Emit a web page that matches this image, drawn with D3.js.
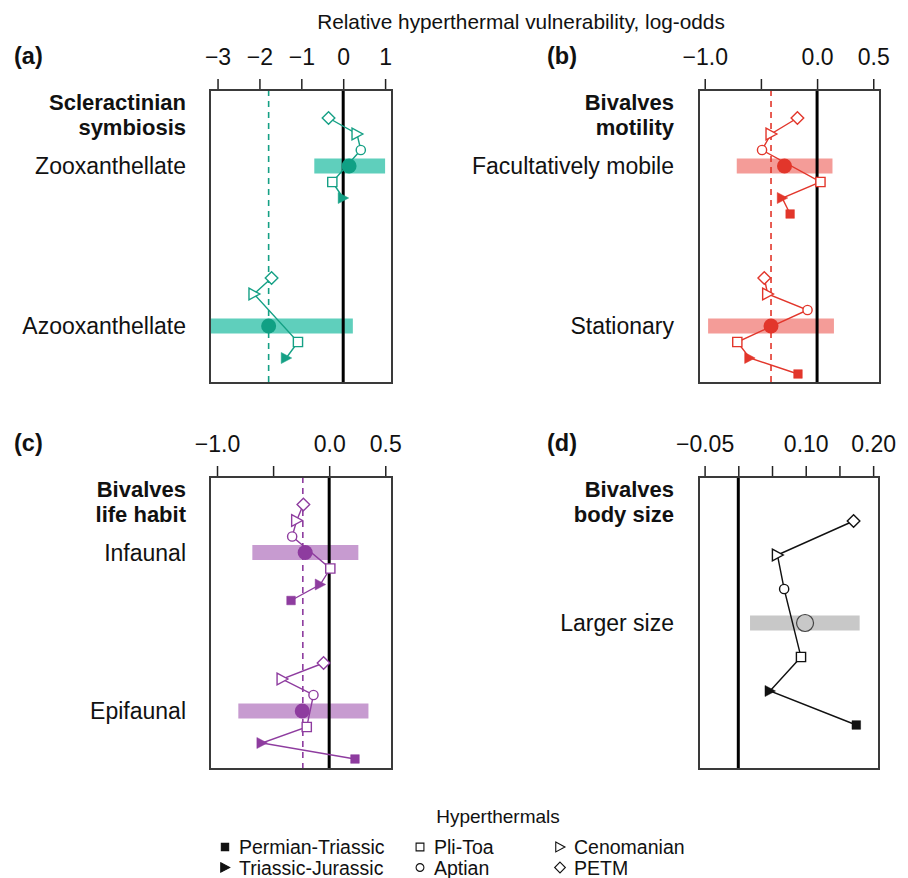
<!DOCTYPE html>
<html>
<head>
<meta charset="utf-8">
<script src="https://cdn.jsdelivr.net/npm/d3@7"></script>
<style>
  body { margin: 0; background: #fff; }
  svg { display: block; font-family: "Liberation Sans", Arial, sans-serif; }
</style>
</head>
<body>
<svg id="chart" width="908" height="878"></svg>
<script>
// hyperthermal events, top to bottom inside each row
var events = ["PETM", "Cenomanian", "Aptian", "Pli-Toa", "Triassic-Jurassic", "Permian-Triassic"];
var eventSlot = [-3, -2, -1, 1, 2, 3];

// (a) scleractinian symbiosis
var aCategories = ["Zooxanthellate", "Azooxanthellate"];
var aMeans = [0.14, -1.78];
var aLower = [-0.69, -3.4];
var aUpper = [1.0, 0.23];
var aEvents = [[-0.35, 0.33, 0.42, -0.26, 0.0, null],
               [-1.71, -2.13, null, -1.08, -1.36, null]];
var aDashed = -1.78;
var aTicks = [-3, -2, -1, 0, 1];
var aTickLabels = ["\u22123", "\u22122", "\u22121", "0", "1"];

// (b) bivalves motility
var bCategories = ["Facultatively mobile", "Stationary"];
var bMeans = [-0.29, -0.41];
var bLower = [-0.715, -0.97];
var bUpper = [0.137, 0.15];
var bEvents = [[-0.175, -0.41, -0.49, 0.03, -0.31, -0.24],
               [-0.47, -0.44, -0.085, -0.71, -0.6, -0.17]];
var bDashed = -0.41;
var bTicks = [-1, -0.5, 0, 0.5];
var bTickLabels = ["\u22121.0", "", "0.0", "0.5"];

// (c) bivalves life habit
var cCategories = ["Infaunal", "Epifaunal"];
var cMeans = [-0.214, -0.24];
var cLower = [-0.685, -0.81];
var cUpper = [0.26, 0.35];
var cEvents = [[-0.23, -0.29, -0.33, 0.01, -0.08, -0.34],
               [-0.05, -0.42, -0.14, -0.2, -0.6, 0.23]];
var cDashed = -0.235;
var cTicks = [-1, -0.5, 0, 0.5];
var cTickLabels = ["\u22121.0", "", "0.0", "0.5"];

// (d) bivalves body size
var dCategories = ["Larger size"];
var dMeans = [0.099];
var dLower = [0.0174];
var dUpper = [0.18];
var dEvents = [[0.171, 0.058, 0.068, 0.093, 0.047, 0.175]];
var dTicks = [-0.05, 0, 0.05, 0.1, 0.15, 0.2];
var dTickLabels = ["\u22120.05", "", "", "0.10", "", "0.20"];

var panels = [
  {tag: "(a)", title: ["Scleractinian", "symbiosis"], cats: aCategories, mean: aMeans, lo: aLower, hi: aUpper,
   ev: aEvents, dashed: aDashed, ticks: aTicks, tickLabels: aTickLabels, domain: [-3.18, 1.165],
   col: "#15a085", bar: "#5fcfbc", dot: "#10a084", dotStroke: null,
   box: {x: 210, y: 90, w: 182, h: 293}, rows: [76, 236], step: 16, textX: 186, tagX: 14},
  {tag: "(b)", title: ["Bivalves", "motility"], cats: bCategories, mean: bMeans, lo: bLower, hi: bUpper,
   ev: bEvents, dashed: bDashed, ticks: bTicks, tickLabels: bTickLabels, domain: [-1.051, 0.56],
   col: "#e2362b", bar: "#f49c98", dot: "#e2362b", dotStroke: null,
   box: {x: 699, y: 90, w: 181, h: 293}, rows: [76, 236], step: 16, textX: 674, tagX: 547},
  {tag: "(c)", title: ["Bivalves", "life habit"], cats: cCategories, mean: cMeans, lo: cLower, hi: cUpper,
   ev: cEvents, dashed: cDashed, ticks: cTicks, tickLabels: cTickLabels, domain: [-1.0625, 0.56],
   col: "#8e3c9f", bar: "#c79bd0", dot: "#8e3c9f", dotStroke: null,
   box: {x: 210, y: 477, w: 182, h: 292}, rows: [75.5, 234], step: 16, textX: 186, tagX: 14},
  {tag: "(d)", title: ["Bivalves", "body size"], cats: dCategories, mean: dMeans, lo: dLower, hi: dUpper,
   ev: dEvents, dashed: null, ticks: dTicks, tickLabels: dTickLabels, domain: [-0.0583, 0.2087],
   col: "#111", bar: "#c8c8c8", dot: "#c8c8c8", dotStroke: "#444",
   box: {x: 699, y: 477, w: 180, h: 292}, rows: [146], step: 34, textX: 674, tagX: 547}
];

var svg = d3.select("#chart");
svg.append("rect").attr("width", 908).attr("height", 878).attr("fill", "#fff");

svg.append("text").attr("x", 521).attr("y", 29).attr("text-anchor", "middle")
  .attr("font-size", 20.8).attr("fill", "#111")
  .text("Relative hyperthermal vulnerability, log-odds");

// marker shapes, roughly R pch 15, 17, 0, 1, 2(right), 5
function markerPath(i) {
  switch (i) {
    case 5: return "M-4.3,-4.3H4.3V4.3H-4.3Z";             // Permian-Triassic, filled square
    case 4: return "M-5,-5.5L5.5,0L-5,5.5Z";               // Triassic-Jurassic, filled triangle
    case 3: return "M-4.6,-4.6H4.6V4.6H-4.6Z";             // Pli-Toa, open square
    case 2: return d3.symbol(d3.symbolCircle, Math.PI * 4.6 * 4.6)();
    case 1: return "M-5,-5.8L5.8,0L-5,5.8Z";               // Cenomanian, open triangle
    default: return "M0,-6.3L6.3,0L0,6.3L-6.3,0Z";         // PETM, open diamond
  }
}
function isFilled(i) { return i >= 4; }

panels.forEach(function (p, pi) {
  var b = p.box;
  var x = d3.scaleLinear().domain(p.domain).range([b.x, b.x + b.w]);
  var g = svg.append("g");

  var clipId = "clip" + pi;
  svg.append("clipPath").attr("id", clipId)
    .append("rect").attr("x", b.x).attr("y", b.y).attr("width", b.w).attr("height", b.h);
  var inner = g.append("g").attr("clip-path", "url(#" + clipId + ")");

  // axis on top
  var axis = d3.axisTop(x).tickValues(p.ticks).tickSize(11).tickPadding(14)
    .tickFormat(function (d, i) { return p.tickLabels[i]; });
  var ax = g.append("g").attr("transform", "translate(0," + b.y + ")").call(axis);
  ax.select(".domain").remove();
  ax.selectAll(".tick line").attr("stroke", "#222").attr("stroke-width", 1.5);
  ax.selectAll(".tick text").attr("font-size", 23).attr("fill", "#111")
    .attr("font-family", "'Liberation Sans', Arial, sans-serif");

  // panel tag and group title
  g.append("text").attr("x", p.tagX).attr("y", b.y - 26).attr("font-size", 23.5)
    .attr("font-weight", "bold").attr("fill", "#111").text(p.tag);
  p.title.forEach(function (t, i) {
    g.append("text").attr("x", p.textX).attr("y", b.y + 20 + i * 24.5).attr("text-anchor", "end")
      .attr("font-size", 22).attr("font-weight", "bold").attr("fill", "#111").text(t);
  });

  // CI bars
  p.cats.forEach(function (c, ci) {
    var yc = b.y + p.rows[ci];
    inner.append("rect").attr("x", x(p.lo[ci])).attr("y", yc - 7.5)
      .attr("width", x(p.hi[ci]) - x(p.lo[ci])).attr("height", 15).attr("fill", p.bar);
    g.append("text").attr("x", p.textX).attr("y", yc).attr("dy", "0.36em").attr("text-anchor", "end")
      .attr("font-size", 23).attr("fill", "#111").text(c);
  });

  if (p.dashed !== null) {
    inner.append("line").attr("x1", x(p.dashed)).attr("x2", x(p.dashed))
      .attr("y1", b.y).attr("y2", b.y + b.h)
      .attr("stroke", p.col).attr("stroke-width", 1.6).attr("stroke-dasharray", "6,5");
  }
  inner.append("line").attr("x1", x(0)).attr("x2", x(0)).attr("y1", b.y).attr("y2", b.y + b.h)
    .attr("stroke", "#000").attr("stroke-width", 3);

  // per-event estimates
  p.cats.forEach(function (c, ci) {
    var yc = b.y + p.rows[ci];
    var pts = [];
    p.ev[ci].forEach(function (v, ei) {
      if (v !== null) pts.push({v: v, y: yc + eventSlot[ei] * p.step, e: ei});
    });
    var line = d3.line().x(function (d) { return x(d.v); }).y(function (d) { return d.y; });
    inner.append("path").attr("d", line(pts)).attr("fill", "none")
      .attr("stroke", p.col).attr("stroke-width", 1.4);
    pts.forEach(function (d) {
      inner.append("path").attr("d", markerPath(d.e))
        .attr("transform", "translate(" + x(d.v) + "," + d.y + ")")
        .attr("fill", isFilled(d.e) ? p.col : "#fff")
        .attr("stroke", p.col).attr("stroke-width", isFilled(d.e) ? 0.5 : 1.4);
    });
    inner.append("circle").attr("cx", x(p.mean[ci])).attr("cy", yc)
      .attr("r", p.dotStroke ? 8.5 : 7.5).attr("fill", p.dot)
      .attr("stroke", p.dotStroke || "none").attr("stroke-width", 1.2);
  });

  g.append("rect").attr("x", b.x).attr("y", b.y).attr("width", b.w).attr("height", b.h)
    .attr("fill", "none").attr("stroke", "#3a3a3a").attr("stroke-width", 2);
});

// legend
var legendCols = [225, 420, 560];
var legendOrder = [5, 4, 3, 2, 1, 0];
var lg = svg.append("g");
lg.append("text").attr("x", 498).attr("y", 823).attr("text-anchor", "middle")
  .attr("font-size", 19).attr("fill", "#111").text("Hyperthermals");
legendOrder.forEach(function (ei, k) {
  var cx = legendCols[Math.floor(k / 2)];
  var cy = 847 + (k % 2) * 20.5;
  lg.append("path").attr("d", markerPath(ei))
    .attr("transform", "translate(" + cx + "," + cy + ") scale(0.85)")
    .attr("fill", isFilled(ei) ? "#111" : "#fff").attr("stroke", "#111").attr("stroke-width", 1.3);
  lg.append("text").attr("x", cx + 14).attr("y", cy).attr("dy", "0.36em")
    .attr("font-size", 19.5).attr("fill", "#111").text(events[ei]);
});
</script>
</body>
</html>
